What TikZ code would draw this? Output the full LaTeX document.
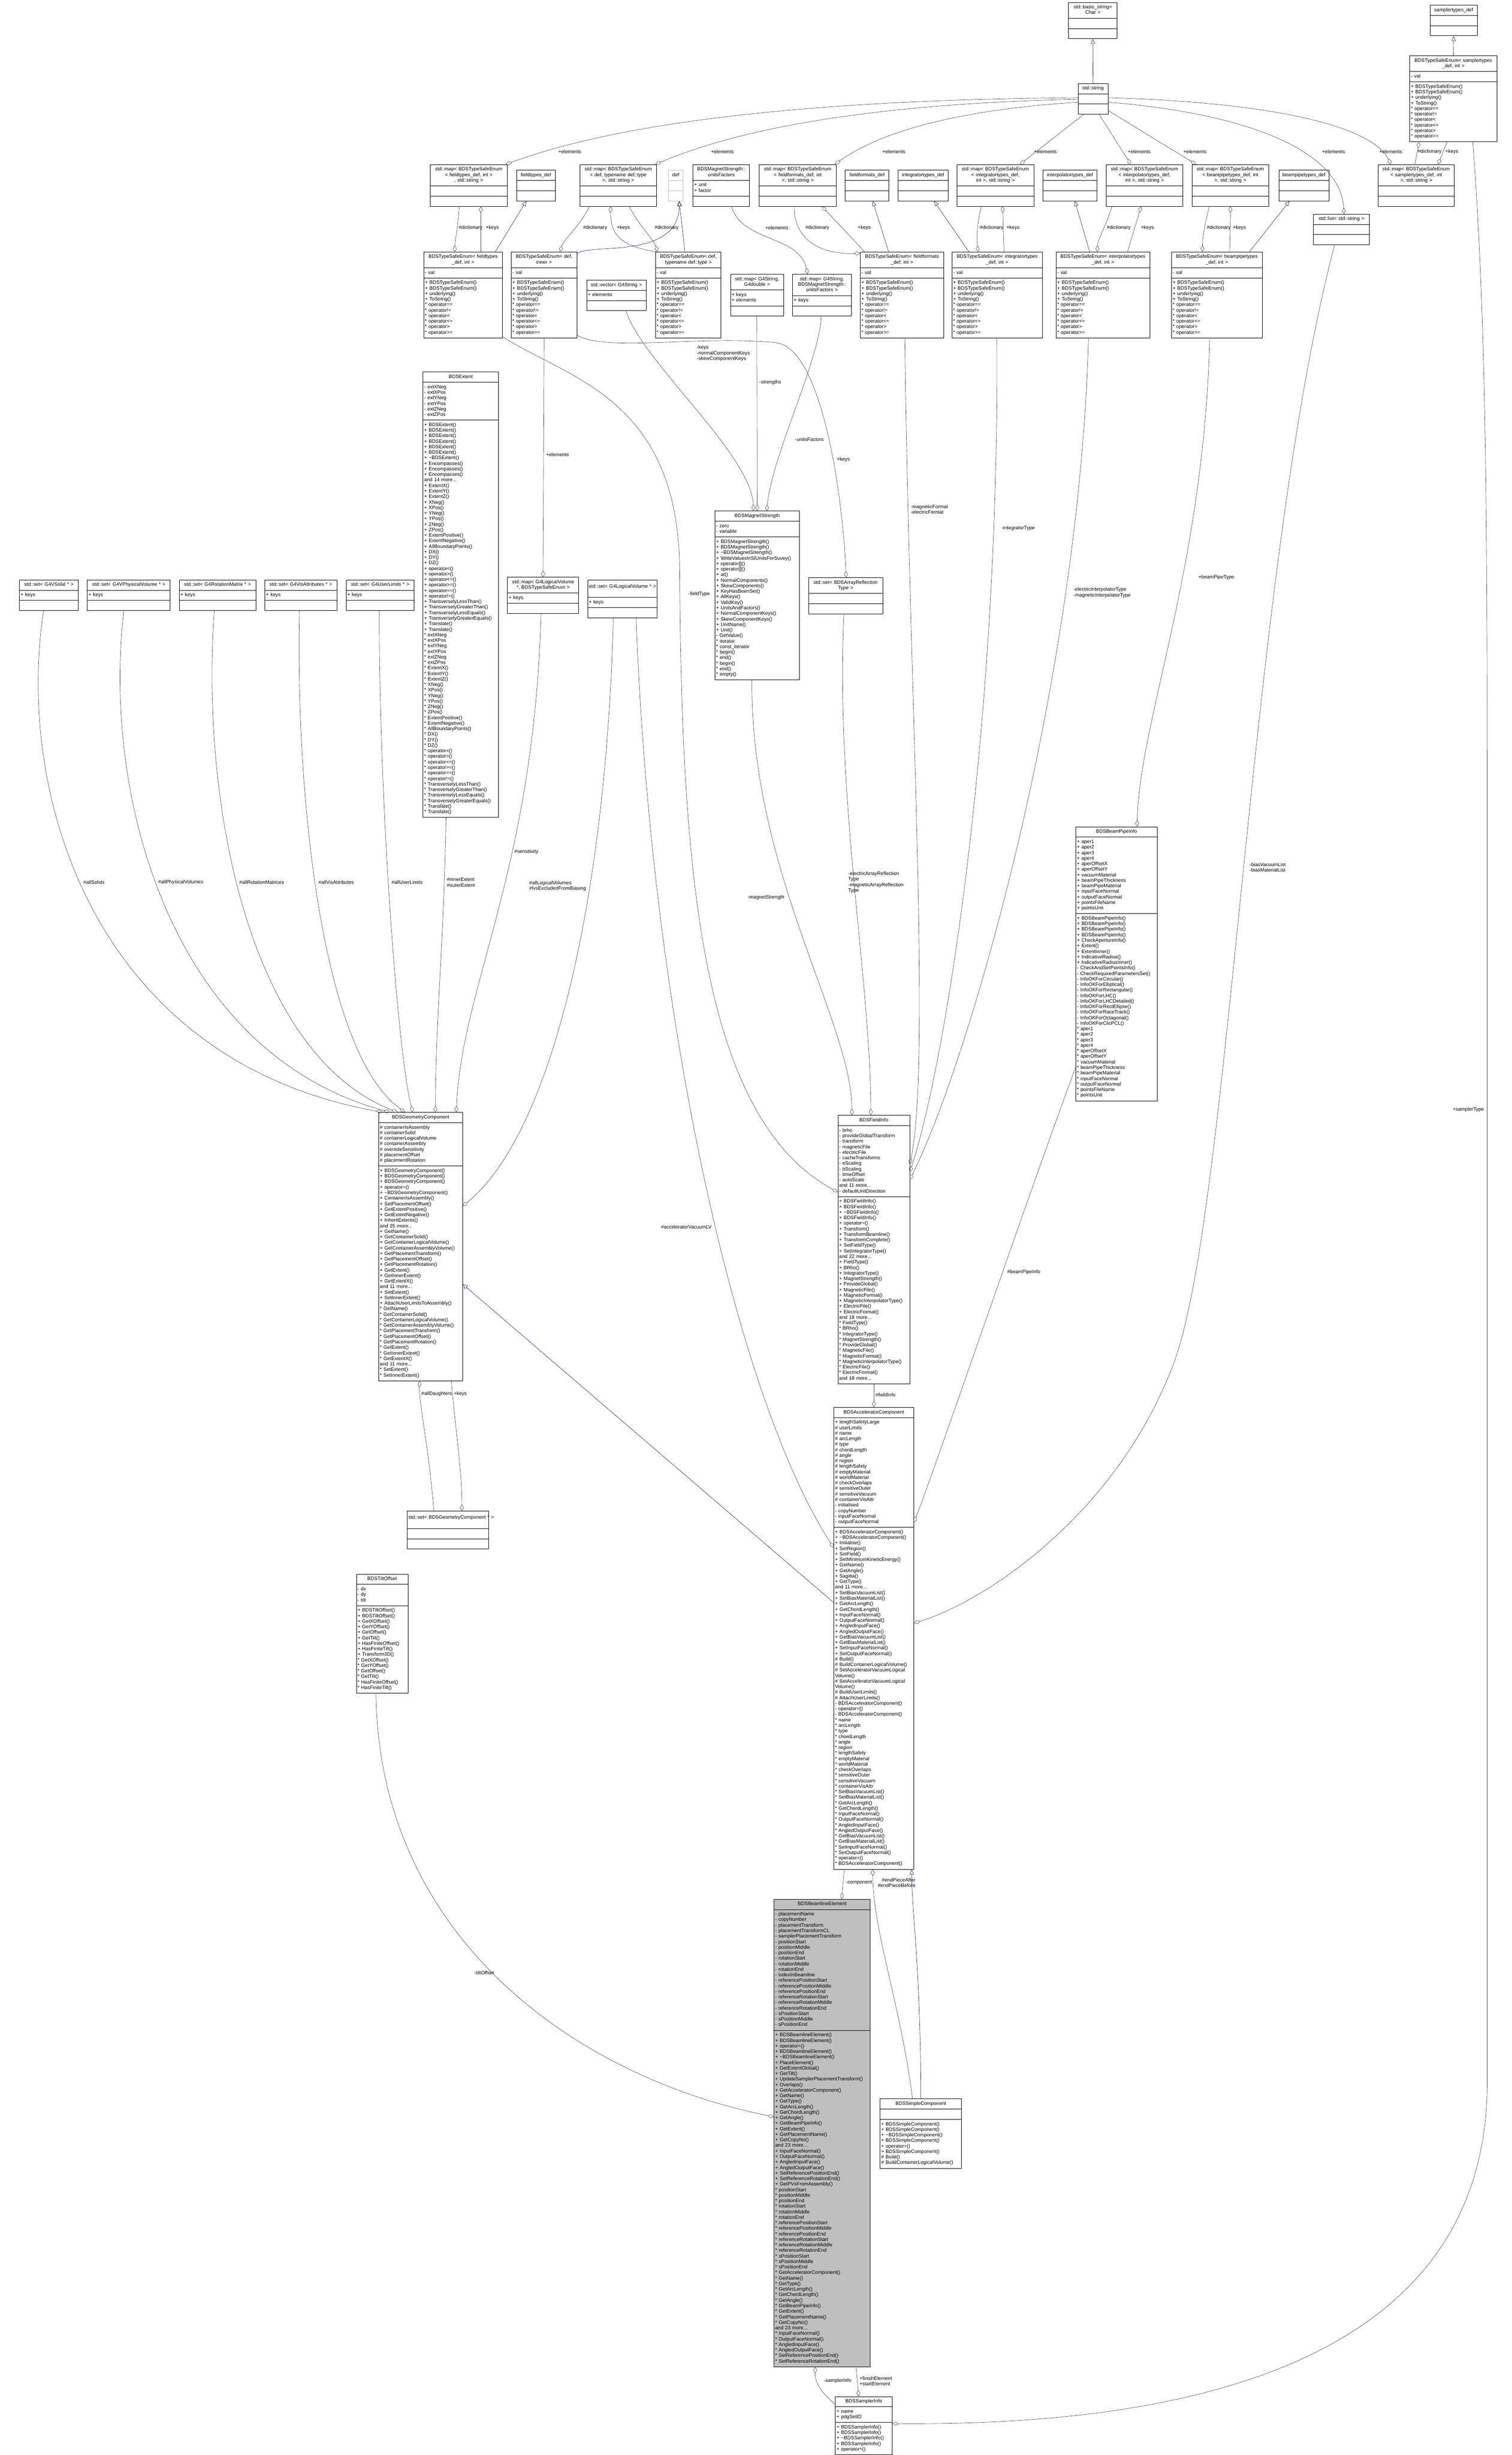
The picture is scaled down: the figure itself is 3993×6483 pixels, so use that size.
\documentclass[tikz,border=0pt]{standalone}
\usepackage{fontspec}
\setmainfont{Liberation Sans}
\usetikzlibrary{shapes.multipart,arrows.meta,calc}

\definecolor{edgegray}{HTML}{404040}
\definecolor{inhblue}{HTML}{191970}
\definecolor{focusgray}{HTML}{BFBFBF}

\newcommand{\br}{\\{}}
\newcommand{\hd}[1]{\hskip0pt plus 1filll\begin{tabular}[t]{@{}c@{}}#1\end{tabular}\hskip0pt plus 1filll\null}
\newcommand{\ptwo}{\strut\nodepart{two}\strut}
\newcommand{\pthree}{\strut\nodepart{three}\strut}
\newcommand{\enumops}{+ BDSTypeSafeEnum()\br + BDSTypeSafeEnum()\br + underlying()\br + ToString()\br * operator==\br * operator!=\br * operator<\br * operator<=\br * operator>\br * operator>=}

\tikzset{
  cls/.style={rectangle split, rectangle split parts=3, draw=black, line width=0.5pt, fill=white,
    anchor=north west, align=left, inner xsep=1.5pt, inner ysep=2.85pt,
    font=\fontsize{6.5}{7.3}\selectfont, execute at end node=\strut},
  lbl/.style={font=\fontsize{6.5}{7.3}\selectfont, inner sep=0pt, align=left},
  agg/.style={draw=edgegray, line width=0.4pt, -{Diamond[open, length=8.5pt, width=5pt, line width=0.4pt]}},
  inh/.style={draw=inhblue, line width=0.4pt, -{Triangle[open, length=6.5pt, width=5.5pt, line width=0.4pt]}}
}

\begin{document}
\begin{tikzpicture}[x=0.5pt, y=-0.5pt]
  \fill[white] (0,0) rectangle (3993,6483);
  \useasboundingbox (0,0) rectangle (3993,6483);

  % string classes and the sampler enum (top)
  \node[cls, text width=61pt] (basic) at (2822,6) {\hd{std::basic\_string<\br Char >}\ptwo\pthree};
  \node[cls, text width=36.5pt] (string) at (2847,220) {\hd{std::string}\ptwo\pthree};
  \node[cls, text width=59pt] (samplerdef) at (3777,13) {\hd{samplertypes\_def}\ptwo\pthree};
  \node[cls, text width=112pt] (enumSampler) at (3723,147) {\hd{BDSTypeSafeEnum< samplertypes\br\_def, int >}\ptwo - val\pthree\enumops};

  % dictionaries and type definitions
  \node[cls, text width=98.5pt] (mapFieldTypes) at (1136,434) {\hd{std::map< BDSTypeSafeEnum\br< fieldtypes\_def, int >\br, std::string >}\ptwo\pthree};
  \node[cls, text width=48pt] (fieldtypesdef) at (1364,449) {\hd{fieldtypes\_def}\ptwo\pthree};
  \node[cls, text width=98.5pt] (mapDef) at (1531,434) {\hd{std::map< BDSTypeSafeEnum\br< def, typename def::type\br >, std::string >}\ptwo\pthree};
  \node[cls, draw=focusgray, text width=16.5pt] (defbox) at (1765,449) {\hd{def}\ptwo\pthree};
  \node[cls, text width=71.5pt] (unitsFactors) at (1830,434) {\hd{BDSMagnetStrength::\br unitsFactors}\ptwo + unit\br + factor\pthree};
  \node[cls, text width=98.5pt] (mapFormats) at (2005,434) {\hd{std::map< BDSTypeSafeEnum\br< fieldformats\_def, int\br >, std::string >}\ptwo\pthree};
  \node[cls, text width=54.5pt] (fieldformatsdef) at (2232,449) {\hd{fieldformats\_def}\ptwo\pthree};
  \node[cls, text width=63.5pt] (integratordef) at (2371,449) {\hd{integratortypes\_def}\ptwo\pthree};
  \node[cls, text width=98.5pt] (mapIntegrator) at (2527,434) {\hd{std::map< BDSTypeSafeEnum\br< integratortypes\_def,\br int >, std::string >}\ptwo\pthree};
  \node[cls, text width=68.5pt] (interpolatordef) at (2754,449) {\hd{interpolatortypes\_def}\ptwo\pthree};
  \node[cls, text width=98.5pt] (mapInterpolator) at (2921,434) {\hd{std::map< BDSTypeSafeEnum\br< interpolatortypes\_def,\br int >, std::string >}\ptwo\pthree};
  \node[cls, text width=98pt] (mapBeampipe) at (3148,434) {\hd{std::map< BDSTypeSafeEnum\br< beampipetypes\_def, int\br >, std::string >}\ptwo\pthree};
  \node[cls, text width=63.5pt] (beampipedef) at (3377,449) {\hd{beampipetypes\_def}\ptwo\pthree};
  \node[cls, text width=70.5pt] (listString) at (3469,565) {\hd{std::list< std::string >}\ptwo\pthree};
  \node[cls, text width=98pt] (mapSampler) at (3639,434) {\hd{std::map< BDSTypeSafeEnum\br< samplertypes\_def, int\br >, std::string >}\ptwo\pthree};

  % type safe enums
  \node[cls, text width=100.5pt] (enumFieldTypes) at (1119,665) {\hd{BDSTypeSafeEnum< fieldtypes\br\_def, int >}\ptwo - val\pthree\enumops};
  \node[cls, text width=83.5pt] (enumInner) at (1350,665) {\hd{BDSTypeSafeEnum< def,\br inner >}\ptwo - val\pthree\enumops};
  \node[cls, text width=75.5pt] (vecString) at (1549,739) {\hd{std::vector< G4String >}\ptwo + elements\pthree};
  \node[cls, text width=83.5pt] (enumDefType) at (1731,665) {\hd{BDSTypeSafeEnum< def,\br typename def::type >}\ptwo - val\pthree\enumops};
  \node[cls, text width=67pt] (mapStrDouble) at (1929,724) {\hd{std::map< G4String,\br G4double >}\ptwo + keys\br + elements\pthree};
  \node[cls, text width=74.5pt] (mapStrUnits) at (2093,724) {\hd{std::map< G4String,\br BDSMagnetStrength::\br unitsFactors >}\ptwo + keys\pthree};
  \node[cls, text width=107pt] (enumFormats) at (2272,665) {\hd{BDSTypeSafeEnum< fieldformats\br\_def, int >}\ptwo - val\pthree\enumops};
  \node[cls, text width=116pt] (enumIntegrator) at (2514,665) {\hd{BDSTypeSafeEnum< integratortypes\br\_def, int >}\ptwo - val\pthree\enumops};
  \node[cls, text width=120.5pt] (enumInterpolator) at (2789,665) {\hd{BDSTypeSafeEnum< interpolatortypes\br\_def, int >}\ptwo - val\pthree\enumops};
  \node[cls, text width=116.5pt] (enumBeampipe) at (3094,665) {\hd{BDSTypeSafeEnum< beampipetypes\br\_def, int >}\ptwo - val\pthree\enumops};

  % extent
  \node[cls, text width=96.5pt] (extent) at (1117,982) {\hd{BDSExtent}\ptwo - extXNeg\br - extXPos\br - extYNeg\br - extYPos\br - extZNeg\br - extZPos\pthree + BDSExtent()\br + BDSExtent()\br + BDSExtent()\br + BDSExtent()\br + BDSExtent()\br + BDSExtent()\br + \textasciitilde BDSExtent()\br + Encompasses()\br + Encompasses()\br + Encompasses()\br and 14 more...\br + ExtentX()\br + ExtentY()\br + ExtentZ()\br + XNeg()\br + XPos()\br + YNeg()\br + YPos()\br + ZNeg()\br + ZPos()\br + ExtentPositive()\br + ExtentNegative()\br + AllBoundaryPoints()\br + DX()\br + DY()\br + DZ()\br + operator<()\br + operator>()\br + operator<=()\br + operator>=()\br + operator==()\br + operator!=()\br + TransverselyLessThan()\br + TransverselyGreaterThan()\br + TransverselyLessEquals()\br + TransverselyGreaterEquals()\br + Translate()\br + Translate()\br * extXNeg\br * extXPos\br * extYNeg\br * extYPos\br * extZNeg\br * extZPos\br * ExtentX()\br * ExtentY()\br * ExtentZ()\br * XNeg()\br * XPos()\br * YNeg()\br * YPos()\br * ZNeg()\br * ZPos()\br * ExtentPositive()\br * ExtentNegative()\br * AllBoundaryPoints()\br * DX()\br * DY()\br * DZ()\br * operator<()\br * operator>()\br * operator<=()\br * operator>=()\br * operator==()\br * operator!=()\br * TransverselyLessThan()\br * TransverselyGreaterThan()\br * TransverselyLessEquals()\br * TransverselyGreaterEquals()\br * Translate()\br * Translate()};

  % Geant4 containers
  \node[cls, text width=74.5pt] (setSolid) at (51,1531) {\hd{std::set< G4VSolid * >}\ptwo + keys\pthree};
  \node[cls, text width=106.5pt] (setPhys) at (230,1531) {\hd{std::set< G4VPhysicalVolume * >}\ptwo + keys\pthree};
  \node[cls, text width=98pt] (setRot) at (473,1531) {\hd{std::set< G4RotationMatrix * >}\ptwo + keys\pthree};
  \node[cls, text width=92pt] (setVis) at (699,1531) {\hd{std::set< G4VisAttributes * >}\ptwo + keys\pthree};
  \node[cls, text width=86.5pt] (setUL) at (914,1531) {\hd{std::set< G4UserLimits * >}\ptwo + keys\pthree};
  \node[cls, text width=91pt] (mapLVSens) at (1340,1524) {\hd{std::map< G4LogicalVolume\br *, BDSTypeSafeEnum >}\ptwo + keys\pthree};
  \node[cls, text width=88.5pt] (setLV) at (1552,1531) {\hd{std::set< G4LogicalVolume * >}\ptwo + keys\pthree};

  % magnet strength
  \node[cls, text width=108.5pt] (magnet) at (1888,1349) {\hd{BDSMagnetStrength}\ptwo - zero\br - variable\pthree + BDSMagnetStrength()\br + BDSMagnetStrength()\br + \textasciitilde BDSMagnetStrength()\br + WriteValuesInSIUnitsForSuvey()\br + operator[]()\br + operator[]()\br + at()\br + NormalComponents()\br + SkewComponents()\br + KeyHasBeenSet()\br + AllKeys()\br + ValidKey()\br + UnitsAndFactors()\br + NormalComponentKeys()\br + SkewComponentKeys()\br + UnitName()\br + Unit()\br - GetValue()\br * iterator\br * const\_iterator\br * begin()\br * end()\br * begin()\br * end()\br * empty()};
  \node[cls, text width=95pt] (setARef) at (2135,1525) {\hd{std::set< BDSArrayReflection\br Type >}\ptwo\pthree};

  % beam pipe info
  \node[cls, text width=104.5pt] (beampipe) at (2841,2183) {\hd{BDSBeamPipeInfo}\ptwo + aper1\br + aper2\br + aper3\br + aper4\br + aperOffsetX\br + aperOffsetY\br + vacuumMaterial\br + beamPipeThickness\br + beamPipeMaterial\br + inputFaceNormal\br + outputFaceNormal\br + pointsFileName\br + pointsUnit\pthree + BDSBeamPipeInfo()\br + BDSBeamPipeInfo()\br + BDSBeamPipeInfo()\br + BDSBeamPipeInfo()\br + CheckApertureInfo()\br + Extent()\br + ExtentInner()\br + IndicativeRadius()\br + IndicativeRadiusInner()\br - CheckAndSetPointsInfo()\br - CheckRequiredParametersSet()\br - InfoOKForCircular()\br - InfoOKForElliptical()\br - InfoOKForRectangular()\br - InfoOKForLHC()\br - InfoOKForLHCDetailed()\br - InfoOKForRectEllipse()\br - InfoOKForRaceTrack()\br - InfoOKForOctagonal()\br - InfoOKForClicPCL()\br * aper1\br * aper2\br * aper3\br * aper4\br * aperOffsetX\br * aperOffsetY\br * vacuumMaterial\br * beamPipeThickness\br * beamPipeMaterial\br * inputFaceNormal\br * outputFaceNormal\br * pointsFileName\br * pointsUnit};

  % geometry component
  \node[cls, text width=107.5pt] (geom) at (1000,2937) {\hd{BDSGeometryComponent}\ptwo \# containerIsAssembly\br \# containerSolid\br \# containerLogicalVolume\br \# containerAssembly\br \# overrideSensitivity\br \# placementOffset\br \# placementRotation\pthree + BDSGeometryComponent()\br + BDSGeometryComponent()\br + BDSGeometryComponent()\br + operator=()\br + \textasciitilde BDSGeometryComponent()\br + ContainerIsAssembly()\br + SetPlacementOffset()\br + GetExtentPositive()\br + GetExtentNegative()\br + InheritExtents()\br and 25 more...\br + GetName()\br + GetContainerSolid()\br + GetContainerLogicalVolume()\br + GetContainerAssemblyVolume()\br + GetPlacementTransform()\br + GetPlacementOffset()\br + GetPlacementRotation()\br + GetExtent()\br + GetInnerExtent()\br + GetExtentX()\br and 11 more...\br + SetExtent()\br + SetInnerExtent()\br + AttachUserLimitsToAssembly()\br * GetName()\br * GetContainerSolid()\br * GetContainerLogicalVolume()\br * GetContainerAssemblyVolume()\br * GetPlacementTransform()\br * GetPlacementOffset()\br * GetPlacementRotation()\br * GetExtent()\br * GetInnerExtent()\br * GetExtentX()\br and 11 more...\br * SetExtent()\br * SetInnerExtent()};
  \node[cls, text width=104.5pt] (setGeom) at (1075,3990) {\hd{std::set< BDSGeometryComponent * >}\ptwo\pthree};

  % field info
  \node[cls, text width=91.5pt] (fieldinfo) at (2213,2945) {\hd{BDSFieldInfo}\ptwo - brho\br - provideGlobalTransform\br - transform\br - magneticFile\br - electricFile\br - cacheTransforms\br - eScaling\br - bScaling\br - timeOffset\br - autoScale\br and 11 more...\br - defaultUnitDirection\pthree + BDSFieldInfo()\br + BDSFieldInfo()\br + \textasciitilde BDSFieldInfo()\br + BDSFieldInfo()\br + operator=()\br + Transform()\br + TransformBeamline()\br + TransformComplete()\br + SetFieldType()\br + SetIntegratorType()\br and 22 more...\br + FieldType()\br + BRho()\br + IntegratorType()\br + MagnetStrength()\br + ProvideGlobal()\br + MagneticFile()\br + MagneticFormat()\br + MagneticInterpolatorType()\br + ElectricFile()\br + ElectricFormat()\br and 18 more...\br * FieldType()\br * BRho()\br * IntegratorType()\br * MagnetStrength()\br * ProvideGlobal()\br * MagneticFile()\br * MagneticFormat()\br * MagneticInterpolatorType()\br * ElectricFile()\br * ElectricFormat()\br and 18 more...};

  % accelerator component
  \node[cls, text width=102.5pt] (accel) at (2202,3716) {\hd{BDSAcceleratorComponent}\ptwo + lengthSafetyLarge\br \# userLimits\br \# name\br \# arcLength\br \# type\br \# chordLength\br \# angle\br \# region\br \# lengthSafety\br \# emptyMaterial\br \# worldMaterial\br \# checkOverlaps\br \# sensitiveOuter\br \# sensitiveVacuum\br \# containerVisAttr\br - initialised\br - copyNumber\br - inputFaceNormal\br - outputFaceNormal\pthree + BDSAcceleratorComponent()\br + \textasciitilde BDSAcceleratorComponent()\br + Initialise()\br + SetRegion()\br + SetField()\br + SetMinimumKineticEnergy()\br + GetName()\br + GetAngle()\br + Sagitta()\br + GetType()\br and 11 more...\br + SetBiasVacuumList()\br + SetBiasMaterialList()\br + GetArcLength()\br + GetChordLength()\br + InputFaceNormal()\br + OutputFaceNormal()\br + AngledInputFace()\br + AngledOutputFace()\br + GetBiasVacuumList()\br + GetBiasMaterialList()\br + SetInputFaceNormal()\br + SetOutputFaceNormal()\br \# Build()\br \# BuildContainerLogicalVolume()\br \# SetAcceleratorVacuumLogical\br Volume()\br \# SetAcceleratorVacuumLogical\br Volume()\br \# BuildUserLimits()\br \# AttachUserLimits()\br - BDSAcceleratorComponent()\br - operator=()\br - BDSAcceleratorComponent()\br * name\br * arcLength\br * type\br * chordLength\br * angle\br * region\br * lengthSafety\br * emptyMaterial\br * worldMaterial\br * checkOverlaps\br * sensitiveOuter\br * sensitiveVacuum\br * containerVisAttr\br * SetBiasVacuumList()\br * SetBiasMaterialList()\br * GetArcLength()\br * GetChordLength()\br * InputFaceNormal()\br * OutputFaceNormal()\br * AngledInputFace()\br * AngledOutputFace()\br * GetBiasVacuumList()\br * GetBiasMaterialList()\br * SetInputFaceNormal()\br * SetOutputFaceNormal()\br * operator=()\br * BDSAcceleratorComponent()};

  % tilt offset
  \node[cls, anchor=south west, text width=65pt] (tilt) at (941,4472) {\hd{BDSTiltOffset}\ptwo - dx\br - dy\br - tilt\pthree + BDSTiltOffset()\br + BDSTiltOffset()\br + GetXOffset()\br + GetYOffset()\br + GetOffset()\br + GetTilt()\br + HasFiniteOffset()\br + HasFiniteTilt()\br + Transform3D()\br * GetXOffset()\br * GetYOffset()\br * GetOffset()\br * GetTilt()\br * HasFiniteOffset()\br * HasFiniteTilt()};

  % beamline element (the documented class)
  \node[cls, fill=focusgray, text width=124pt] (element) at (2044,5015) {\hd{BDSBeamlineElement}\ptwo - placementName\br - copyNumber\br - placementTransform\br - placementTransformCL\br - samplerPlacementTransform\br - positionStart\br - positionMiddle\br - positionEnd\br - rotationStart\br - rotationMiddle\br - rotationEnd\br - indexInBeamline\br - referencePositionStart\br - referencePositionMiddle\br - referencePositionEnd\br - referenceRotationStart\br - referenceRotationMiddle\br - referenceRotationEnd\br - sPositionStart\br - sPositionMiddle\br - sPositionEnd\pthree + BDSBeamlineElement()\br + BDSBeamlineElement()\br + operator=()\br + BDSBeamlineElement()\br + \textasciitilde BDSBeamlineElement()\br + PlaceElement()\br + GetExtentGlobal()\br + GetTilt()\br + UpdateSamplerPlacementTransform()\br + Overlaps()\br + GetAcceleratorComponent()\br + GetName()\br + GetType()\br + GetArcLength()\br + GetChordLength()\br + GetAngle()\br + GetBeamPipeInfo()\br + GetExtent()\br + GetPlacementName()\br + GetCopyNo()\br and 23 more...\br + InputFaceNormal()\br + OutputFaceNormal()\br + AngledInputFace()\br + AngledOutputFace()\br + SetReferencePositionEnd()\br + SetReferenceRotationEnd()\br + GetPVsFromAssembly()\br * positionStart\br * positionMiddle\br * positionEnd\br * rotationStart\br * rotationMiddle\br * rotationEnd\br * referencePositionStart\br * referencePositionMiddle\br * referencePositionEnd\br * referenceRotationStart\br * referenceRotationMiddle\br * referenceRotationEnd\br * sPositionStart\br * sPositionMiddle\br * sPositionEnd\br * GetAcceleratorComponent()\br * GetName()\br * GetType()\br * GetArcLength()\br * GetChordLength()\br * GetAngle()\br * GetBeamPipeInfo()\br * GetExtent()\br * GetPlacementName()\br * GetCopyNo()\br and 23 more...\br * InputFaceNormal()\br * OutputFaceNormal()\br * AngledInputFace()\br * AngledOutputFace()\br * SetReferencePositionEnd()\br * SetReferenceRotationEnd()};

  \node[cls, text width=104.5pt] (simple) at (2324,5542) {\hd{BDSSimpleComponent}\ptwo\pthree + BDSSimpleComponent()\br + BDSSimpleComponent()\br + \textasciitilde BDSSimpleComponent()\br + BDSSimpleComponent()\br + operator=()\br + BDSSimpleComponent()\br \# Build()\br \# BuildContainerLogicalVolume()};
  \node[cls, text width=72pt] (sampler) at (2206,6328) {\hd{BDSSamplerInfo}\ptwo + name\br + pdgSetID\pthree + BDSSamplerInfo()\br + BDSSamplerInfo()\br + \textasciitilde BDSSamplerInfo()\br + BDSSamplerInfo()\br + operator=()};

  % inheritance
  \draw[inh] (string.north) -- (basic.south);
  \draw[inh] (enumSampler.north) -- (samplerdef.south);
  \draw[inh] ($(enumFieldTypes.north west)+(189,0)$) -- ($(fieldtypesdef.south west)+(26,0)$);
  \draw[inh] ($(enumDefType.north west)+(78,0)$) -- ($(defbox.south west)+(29,0)$);
  \draw[inh] ($(enumInner.north east)+(0,6)$) .. controls (1545,640) and (1794,690) .. ($(defbox.south west)+(29,0)$);
  \draw[inh] ($(enumFormats.north west)+(75,0)$) -- ($(fieldformatsdef.south west)+(73,0)$);
  \draw[inh] ($(enumIntegrator.north west)+(45,0)$) -- ($(integratordef.south west)+(96,0)$);
  \draw[inh] ($(enumInterpolator.north west)+(89,0)$) -- ($(interpolatordef.south west)+(85,0)$);
  \draw[inh] ($(enumBeampipe.north west)+(206,0)$) -- ($(beampipedef.south west)+(29,0)$);
  \draw[inh] ($(accel.north west)+(0,516)$) -- ($(geom.north east)+(0,454)$);
  \draw[inh] ($(simple.north west)+(108,0)$) .. controls (2432,5200) and (2408,5050) .. ($(accel.south west)+(206,0)$);

  % std::string as map elements
  \draw[agg] ($(string.north west)+(0,38)$) .. controls (2300,262) and (1700,300) .. ($(mapFieldTypes.north east)+(-4,0)$);
  \draw[agg] ($(string.north west)+(0,42)$) .. controls (2400,272) and (2000,320) .. ($(mapDef.north east)+(-4,0)$);
  \draw[agg] ($(string.north west)+(0,50)$) .. controls (2600,285) and (2350,330) .. ($(mapFormats.north east)+(-4,0)$);
  \draw[agg] ($(string.south west)+(15,0)$) -- ($(mapIntegrator.north west)+(167,0)$);
  \draw[agg] ($(string.south west)+(56,0)$) -- ($(mapInterpolator.north west)+(66,0)$);
  \draw[agg] ($(string.south east)+(0,-10)$) -- ($(mapBeampipe.north west)+(11,0)$);
  \draw[agg] ($(string.north east)+(0,50)$) .. controls (3300,300) and (3540,400) .. ($(listString.north west)+(81,0)$);
  \draw[agg] ($(string.north east)+(0,38)$) .. controls (3350,270) and (3620,330) .. ($(mapSampler.north west)+(35,0)$);
  \node[lbl] (t1) at (1505,401) {+elements};
  \node[lbl] (t2) at (1908,401) {+elements};
  \node[lbl] (t3) at (2361,401) {+elements};
  \node[lbl] (t4) at (2761,401) {+elements};
  \node[lbl] (t5) at (3009,401) {+elements};
  \node[lbl] (t6) at (3156,401) {+elements};
  \node[lbl] (t7) at (3522,401) {+elements};
  \node[lbl] (t8) at (3673,401) {+elements};

  % dictionaries and keys
  \draw[agg] ($(mapFieldTypes.south west)+(77,0)$) .. controls (1210,600) and (1202,630) .. ($(enumFieldTypes.north west)+(82,0)$);
  \draw[agg] ($(enumFieldTypes.north west)+(151,0)$) -- ($(mapFieldTypes.south west)+(134,0)$);
  \draw[agg] ($(mapDef.south west)+(26,0)$) .. controls (1530,600) and (1490,630) .. ($(enumInner.north west)+(129,0)$);
  \draw[agg] ($(enumDefType.north west)+(2,0)$) .. controls (1640,650) and (1612,620) .. ($(mapDef.south west)+(82,0)$);
  \draw[agg] ($(mapDef.south west)+(131,0)$) .. controls (1690,600) and (1725,630) .. ($(enumDefType.north west)+(6,0)$);
  \draw[agg] ($(unitsFactors.south west)+(102,0)$) .. controls (1960,640) and (2110,620) .. ($(mapStrUnits.north west)+(40,0)$);
  \draw[agg] ($(mapFormats.south west)+(93,0)$) .. controls (2096,620) and (2150,672) .. ($(enumFormats.north west)+(0,4)$);
  \draw[agg] ($(enumFormats.north west)+(12,0)$) -- ($(mapFormats.south west)+(166,0)$);
  \draw[agg] ($(mapIntegrator.south west)+(65,0)$) .. controls (2578,600) and (2580,630) .. ($(enumIntegrator.north west)+(69,0)$);
  \draw[agg] ($(enumIntegrator.north west)+(138,0)$) -- ($(mapIntegrator.south west)+(121,0)$);
  \draw[agg] ($(mapInterpolator.south west)+(16,0)$) .. controls (2920,600) and (2900,630) .. ($(enumInterpolator.north west)+(109,0)$);
  \draw[agg] ($(enumInterpolator.north west)+(189,0)$) -- ($(mapInterpolator.south west)+(93,0)$);
  \draw[agg] ($(mapBeampipe.south west)+(46,0)$) .. controls (3180,600) and (3176,630) .. ($(enumBeampipe.north west)+(82,0)$);
  \draw[agg] ($(enumBeampipe.north west)+(154,0)$) -- ($(mapBeampipe.south west)+(102,0)$);
  \draw[agg] ($(mapSampler.north west)+(98,0)$) -- ($(enumSampler.south west)+(25,0)$);
  \draw[agg] ($(enumSampler.south west)+(99,0)$) -- ($(mapSampler.north west)+(159,0)$);
  \node[lbl, anchor=west] (t9) at (1211,602) {\#dictionary};
  \node[lbl, anchor=west] (t10) at (1283,602) {+keys};
  \node[lbl, anchor=west] (t11) at (1540,602) {\#dictionary};
  \node[lbl, anchor=west] (t12) at (1629,602) {+keys};
  \node[lbl, anchor=west] (t13) at (1729,602) {\#dictionary};
  \node[lbl, anchor=west] (t14) at (2021,602) {+elements};
  \node[lbl, anchor=west] (t15) at (2127,602) {\#dictionary};
  \node[lbl, anchor=west] (t16) at (2265,602) {+keys};
  \node[lbl, anchor=west] (t17) at (2587,601) {\#dictionary};
  \node[lbl, anchor=west] (t18) at (2658,601) {+keys};
  \node[lbl, anchor=west] (t19) at (2923,601) {\#dictionary};
  \node[lbl, anchor=west] (t20) at (3013,601) {+keys};
  \node[lbl, anchor=west] (t21) at (3187,601) {\#dictionary};
  \node[lbl, anchor=west] (t22) at (3256,601) {+keys};
  \node[lbl, anchor=west] (t23) at (3744,401) {\#dictionary};
  \node[lbl, anchor=west] (t24) at (3817,401) {+keys};

  % magnet strength and its containers
  \draw[agg] ($(vecString.south west)+(104,0)$) .. controls (1700,960) and (1985,1200) .. ($(magnet.north west)+(102,0)$);
  \draw[agg] ($(mapStrDouble.south west)+(70,0)$) -- ($(magnet.north west)+(112,0)$);
  \draw[agg] ($(mapStrUnits.south west)+(76,0)$) .. controls (2165,950) and (2040,1200) .. ($(magnet.north west)+(137,0)$);
  \draw[agg] ($(enumInner.south west)+(87,0)$) -- ($(mapLVSens.north west)+(94,0)$);
  \draw[agg] ($(enumInner.south east)+(0,-8)$) .. controls (1600,930) and (1850,885) .. (2050,905) .. controls (2170,920) and (2225,1300) .. ($(setARef.north west)+(100,0)$);
  \node[lbl, anchor=north west] (t25) at (1840,912) {-keys\\-normalComponentKeys\\-skewComponentKeys};
  \node[lbl, anchor=west] (t26) at (2005,1010) {-strengths};
  \node[lbl, anchor=west] (t27) at (2100,1160) {-unitsFactors};
  \node[lbl, anchor=west] (t28) at (2210,1214) {+keys};
  \node[lbl, anchor=west] (t29) at (1442,1200) {+elements};

  % field info members
  \draw[agg] ($(enumFieldTypes.south east)+(0,-4)$) .. controls (1500,1000) and (1790,1050) .. (1795,1500) .. controls (1800,2300) and (1850,2950) .. ($(fieldinfo.north west)+(0,203)$);
  \draw[agg] ($(magnet.south west)+(98,0)$) .. controls (1982,2300) and (2250,2700) .. ($(fieldinfo.north west)+(37,0)$);
  \draw[agg] ($(setARef.south west)+(94,0)$) .. controls (2206,2100) and (2300,2600) .. ($(fieldinfo.north west)+(87,0)$);
  \draw[agg] ($(enumFormats.south west)+(118,0)$) .. controls (2400,1800) and (2460,2800) .. ($(fieldinfo.north east)+(0,130)$);
  \draw[agg] ($(enumIntegrator.south west)+(119,0)$) .. controls (2640,1900) and (2500,2800) .. ($(fieldinfo.north east)+(0,150)$);
  \draw[agg] ($(enumInterpolator.south west)+(86,0)$) .. controls (2850,1800) and (2560,2800) .. ($(fieldinfo.north east)+(0,170)$);
  \node[lbl, anchor=west] (t30) at (1818,1569) {-fieldType};
  \node[lbl, anchor=east] (t31) at (2072,2370) {-magnetStrength};
  \node[lbl, anchor=west] (t32) at (2240,2330) {-electricArrayReflection\\Type\\-magneticArrayReflection\\Type};
  \node[lbl, anchor=west] (t33) at (2405,1345) {-magneticFormat\\-electricFormat};
  \node[lbl, anchor=west] (t34) at (2645,1395) {-integratorType};
  \node[lbl, anchor=west] (t35) at (2835,1565) {-electricInterpolatorType\\-magneticInterpolatorType};

  % beam pipe, sampler type, bias lists
  \draw[agg] ($(enumBeampipe.south west)+(101,0)$) .. controls (3180,1500) and (3010,1900) .. ($(beampipe.north west)+(162,0)$);
  \draw[agg] ($(enumSampler.south west)+(167,0)$) .. controls (3930,900) and (3928,1500) .. (3928,2500) -- (3928,5500) .. controls (3928,6300) and (3000,6405) .. ($(sampler.north east)+(0,72)$);
  \draw[agg] ($(listString.south west)+(56,0)$) .. controls (3300,1500) and (3250,3200) .. (3100,3600) .. controls (2950,4000) and (2600,4230) .. ($(accel.north east)+(0,570)$);
  \draw[agg] ($(beampipe.south west)+(0,-89)$) .. controls (2700,3200) and (2480,3850) .. ($(accel.north east)+(0,304)$);
  \draw[agg] (fieldinfo.south) -- (accel.north);
  \node[lbl, anchor=west] (t36) at (3165,1525) {+beamPipeType};
  \node[lbl, anchor=east] (t37) at (3920,2930) {+samplerType};
  \node[lbl, anchor=west] (t38) at (3300,2290) {-biasVacuumList\\-biasMaterialList};
  \node[lbl, anchor=west] (t39) at (2660,3359) {\#beamPipeInfo};
  \node[lbl, anchor=west] (t40) at (2312,3683) {\#fieldInfo};

  % geometry component members
  \draw[agg] ($(setSolid.south west)+(64,0)$) .. controls (40,2100) and (250,2800) .. ($(geom.north west)+(10,0)$);
  \draw[agg] ($(setPhys.south west)+(97,0)$) .. controls (270,2100) and (450,2780) .. ($(geom.north west)+(30,0)$);
  \draw[agg] ($(setRot.south west)+(93,0)$) .. controls (530,2100) and (650,2780) .. ($(geom.north west)+(50,0)$);
  \draw[agg] ($(setVis.south west)+(92,0)$) .. controls (780,2100) and (850,2780) .. ($(geom.north west)+(70,0)$);
  \draw[agg] ($(setUL.south west)+(88,0)$) .. controls (1000,2100) and (1050,2780) .. ($(geom.north west)+(90,0)$);
  \draw[agg] ($(extent.south west)+(61,0)$) .. controls (1172,2500) and (1150,2700) .. ($(geom.north west)+(150,0)$);
  \draw[agg] ($(mapLVSens.south west)+(89,0)$) .. controls (1410,2300) and (1220,2600) .. ($(geom.north west)+(205,0)$);
  \draw[agg] ($(setLV.south west)+(68,0)$) .. controls (1600,2400) and (1450,3000) .. ($(geom.north east)+(0,248)$);
  \draw[agg] ($(setLV.south west)+(128,0)$) .. controls (1720,2700) and (1950,3700) .. ($(accel.north west)+(0,371)$);
  \draw[agg] ($(setGeom.north west)+(71,0)$) .. controls (1130,3800) and (1108,3720) .. ($(geom.south west)+(108,0)$);
  \draw[agg] ($(geom.south west)+(192,0)$) .. controls (1200,3750) and (1220,3880) .. ($(setGeom.north west)+(145,0)$);
  \node[lbl, anchor=west] (t41) at (220,2330) {\#allSolids};
  \node[lbl, anchor=west] (t42) at (418,2330) {\#allPhysicalVolumes};
  \node[lbl, anchor=west] (t43) at (632,2330) {\#allRotationMatrices};
  \node[lbl, anchor=west] (t44) at (841,2330) {\#allVisAttributes};
  \node[lbl, anchor=west] (t45) at (1034,2330) {\#allUserLimits};
  \node[lbl, anchor=west] (t46) at (1180,2330) {\#innerExtent\\\#outerExtent};
  \node[lbl, anchor=west] (t47) at (1358,2250) {\#sensitivity};
  \node[lbl, anchor=east] (t48) at (1548,2340) {\#allLogicalVolumes\\\#lvsExcludedFromBiasing};
  \node[lbl, anchor=east] (t49) at (1880,3240) {\#acceleratorVacuumLV};
  \node[lbl, anchor=west] (t50) at (1113,3681) {\#allDaughters};
  \node[lbl, anchor=west] (t51) at (1198,3681) {+keys};

  % beamline element members
  \draw[agg] ($(accel.south west)+(28,0)$) -- ($(element.north west)+(179,0)$);
  \draw[agg] ($(simple.north west)+(86,0)$) .. controls (2380,5300) and (2306,5100) .. ($(accel.south west)+(103,0)$);
  \draw[agg] ($(tilt.south west)+(52,0)$) .. controls (1000,5100) and (1500,5480) .. ($(element.north west)+(0,575)$);
  \draw[agg] ($(sampler.north west)+(0,21)$) .. controls (2170,6320) and (2152,6290) .. ($(element.south west)+(109,0)$);
  \draw[agg] ($(element.south west)+(217,0)$) -- ($(sampler.north west)+(62,0)$);
  \node[lbl, anchor=west] (t52) at (2234,4972) {-component};
  \node[lbl, anchor=west, align=right] (t53) at (2318,4972) {\#endPieceAfter\\\#endPieceBefore};
  \node[lbl, anchor=south east] (t54) at (1305,5215) {-tiltOffset};
  \node[lbl, anchor=west] (t55) at (2176,6287) {-samplerInfo};
  \node[lbl, anchor=west] (t56) at (2270,6288) {+finishElement\\+startElement};
\end{tikzpicture}
\end{document}
